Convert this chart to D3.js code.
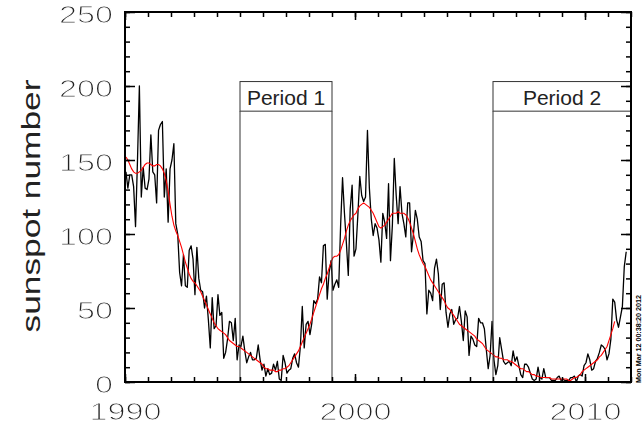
<!DOCTYPE html>
<html>
<head>
<meta charset="utf-8">
<script src="https://cdn.jsdelivr.net/npm/d3@7"></script>
<style>
	body { margin: 0; background: #fff; }
	svg { display: block; }
</style>
</head>
<body>
<div id="chart"></div>
<script>
// monthly sunspot numbers, one row per year, starting Jan 1990 (ends Oct 2011)
const startYear = 1990;
const monthly = [
	142, 131, 140, 140, 132, 105, 149, 200, 125, 145, 131, 130,
	137, 167, 142, 140, 121, 170, 174, 176, 125, 144, 108, 144,
	150, 161, 107, 100, 74, 65, 86, 65, 64, 89, 92, 83,
	59, 91, 70, 62, 61, 50, 58, 42, 23, 57, 36, 38,
	59, 45, 47, 16, 20, 29, 41, 40, 28, 43, 15, 25,
	24, 31, 21, 13, 17, 20, 15, 15, 16, 25, 15, 8,
	12, 4, 9, 5, 6, 12, 8, 14, 2, 1, 18, 13,
	6, 8, 9, 16, 19, 13, 10, 24, 51, 23, 39, 41,
	32, 40, 55, 53, 56, 71, 67, 92, 93, 56, 74, 82,
	62, 66, 69, 64, 106, 138, 114, 94, 72, 117, 133, 85,
	90, 113, 139, 126, 122, 125, 170, 131, 110, 99, 107, 104,
	96, 81, 114, 108, 97, 134, 82, 106, 151, 126, 107, 132,
	114, 107, 98, 121, 121, 88, 100, 116, 110, 98, 95, 82,
	80, 46, 62, 60, 55, 77, 83, 73, 49, 66, 67, 47,
	37, 46, 49, 39, 42, 43, 51, 41, 28, 48, 44, 18,
	31, 29, 25, 24, 43, 40, 40, 36, 22, 9, 18, 41,
	15, 5, 11, 30, 22, 14, 12, 13, 14, 11, 21, 14,
	17, 11, 5, 3, 12, 12, 10, 6, 2, 1, 2, 10,
	3, 2, 9, 3, 3, 3, 1, 1, 1, 3, 4, 1,
	2, 1, 1, 1, 3, 3, 4, 0, 4, 5, 4, 11,
	13, 19, 15, 8, 9, 14, 16, 20, 25, 24, 22, 15,
	19, 29, 56, 54, 42, 37, 44, 51, 78, 88
];

// smoothed sunspot numbers (red), Jan 1990 to Apr 2011
const smoothed = [
	152, 150, 147, 144, 142, 141, 141, 142, 143, 145, 147, 148,
	148, 147, 146, 146, 147, 147, 146, 144, 141, 136, 129, 120,
	112, 106, 102, 99, 95, 91, 86, 81, 77, 73, 70, 68,
	67, 65, 63, 61, 58, 55, 52, 49, 46, 43, 40, 38,
	36, 35, 34, 33, 32, 30, 28, 27, 26, 25, 24, 24,
	23, 22, 21, 20, 19, 18, 17, 16, 15, 14, 13, 12,
	10, 9, 9, 8, 8, 8, 7, 7, 8, 8, 9, 9,
	10, 11, 13, 15, 17, 19, 21, 24, 27, 30, 33, 36,
	39, 43, 47, 51, 55, 59, 63, 66, 70, 73, 77, 81,
	84, 85, 85, 86, 89, 93, 97, 102, 106, 109, 111, 113,
	114, 117, 119, 120, 121, 120, 119, 118, 116, 114, 111, 108,
	105, 104, 105, 106, 108, 110, 112, 114, 114, 114, 115, 114,
	114, 114, 113, 111, 108, 104, 100, 95, 90, 86, 83, 80,
	78, 75, 72, 69, 67, 65, 63, 61, 59, 57, 55, 52,
	50, 49, 47, 45, 43, 41, 39, 38, 37, 36, 35, 34,
	33, 32, 31, 29, 28, 27, 26, 24, 22, 21, 20, 19,
	18, 17, 17, 16, 16, 15, 15, 15, 14, 14, 13, 12,
	11, 10, 9, 9, 8, 7, 7, 6, 5, 5, 4, 4,
	3, 3, 3, 3, 3, 3, 2, 2, 2, 2, 2, 2,
	2, 2, 2, 1, 1, 2, 3, 3, 4, 5, 7, 8,
	9, 10, 11, 12, 13, 14, 15, 17, 18, 20, 22, 24,
	28, 32, 36, 41
];

const periods = [
	{ label: "Period 1", start: 1995, end: 1999 },
	{ label: "Period 2", start: 2006, end: 2012 }
];

const xDomain = [1990, 2012];
const yDomain = [0, 250];
const xTicks = [1990, 2000, 2010];
const xMinorTicks = d3.range(1990, 2013, 1);
const yTicks = [0, 50, 100, 150, 200, 250];
const yMinorTicks = d3.range(0, 251, 10);
const yTitle = "sunspot number";
const stamp = "Mon Mar 12 00:38:20 2012";

// layout
const width = 644;
const height = 429;
const margin = { top: 12, right: 13, bottom: 47, left: 125 };
const boxTop = 203;     // period label boxes, in sunspot units
const boxBottom = 183;
const digitWidth = 18;  // tick labels are drawn wide, like the original
const textFont = "'Liberation Sans', Arial, Helvetica, sans-serif";

const svg = d3.select("#chart")
	.append("svg")
	.attr("width", width)
	.attr("height", height);

const defs = svg.append("defs");

defs.append("clipPath")
	.attr("id", "plot-clip")
	.append("rect")
	.attr("x", margin.left)
	.attr("y", margin.top)
	.attr("width", width - margin.left - margin.right)
	.attr("height", height - margin.top - margin.bottom);

// no-op filter: renders the labels offscreen so they get plain grey antialiasing
defs.append("filter")
	.attr("id", "flat")
	.append("feOffset")
	.attr("dx", 0)
	.attr("dy", 0);

const x = d3.scaleLinear()
	.domain(xDomain)
	.range([margin.left, width - margin.right]);

const y = d3.scaleLinear()
	.domain(yDomain)
	.range([height - margin.bottom, margin.top]);

const monthTime = (i) => startYear + (i + 0.5) / 12;

const line = d3.line()
	.x((d, i) => x(monthTime(i)))
	.y((d) => y(d));

const plot = svg.append("g").attr("clip-path", "url(#plot-clip)");

plot.append("path")
	.datum(monthly)
	.attr("fill", "none")
	.attr("stroke", "#000")
	.attr("stroke-width", 1.3)
	.attr("stroke-linejoin", "round")
	.attr("d", line);

plot.append("path")
	.datum(smoothed)
	.attr("fill", "none")
	.attr("stroke", "#f00")
	.attr("stroke-width", 1.1)
	.attr("d", line);

// period boxes
const period = svg.append("g")
	.selectAll("g")
	.data(periods)
	.enter()
	.append("g");

period.append("rect")
	.attr("x", (d) => x(d.start))
	.attr("y", y(boxTop))
	.attr("width", (d) => x(d.end) - x(d.start))
	.attr("height", y(boxBottom) - y(boxTop))
	.attr("fill", "#fff")
	.attr("stroke", "#333")
	.attr("stroke-width", 1);

period.selectAll("line")
	.data((d) => [d.start, d.end])
	.enter()
	.append("line")
	.attr("x1", (d) => x(d))
	.attr("x2", (d) => x(d))
	.attr("y1", y(boxBottom))
	.attr("y2", y(0))
	.attr("stroke", "#333")
	.attr("stroke-width", 1);

period.append("text")
	.attr("x", (d) => (x(d.start) + x(d.end)) / 2)
	.attr("y", y(boxBottom) - 6)
	.attr("text-anchor", "middle")
	.attr("font-family", textFont)
	.attr("font-size", 21)
	.attr("fill", "#222")
	.text((d) => d.label);

// axes, ticks on all four sides pointing inward
const styleTicks = (g) => {
	g.select(".domain").remove();
	g.selectAll(".tick line").attr("stroke", "#000").attr("stroke-width", 1.5);
};

// white stroke over the fill thins the glyphs, like the hairline original
const styleLabels = (g) => {
	g.selectAll(".tick text")
		.attr("font-family", textFont)
		.attr("font-size", 23)
		.attr("fill", "#222")
		.attr("stroke", "#fff")
		.attr("stroke-width", 1)
		.attr("filter", "url(#flat)")
		.attr("textLength", (d) => String(d).length * digitWidth)
		.attr("lengthAdjust", "spacingAndGlyphs");
};

const plotBottom = y(0);
const plotTop = y(250);
const plotLeft = x(1990);
const plotRight = x(2012);

svg.append("g")
	.attr("transform", `translate(0,${plotBottom})`)
	.call(d3.axisBottom(x).tickValues(xMinorTicks).tickSize(-5).tickFormat(""))
	.call(styleTicks);

svg.append("g")
	.attr("transform", `translate(0,${plotBottom})`)
	.call(d3.axisBottom(x).tickValues(xTicks).tickSize(-8).tickFormat(d3.format("d")))
	.call(styleTicks)
	.call(styleLabels)
	.call((g) => g.selectAll(".tick text").attr("y", 22).attr("dy", "0.71em"));

svg.append("g")
	.attr("transform", `translate(0,${plotTop})`)
	.call(d3.axisTop(x).tickValues(xMinorTicks).tickSize(-5).tickFormat(""))
	.call(styleTicks);

svg.append("g")
	.attr("transform", `translate(0,${plotTop})`)
	.call(d3.axisTop(x).tickValues(xTicks).tickSize(-8).tickFormat(""))
	.call(styleTicks);

svg.append("g")
	.attr("transform", `translate(${plotLeft},0)`)
	.call(d3.axisLeft(y).tickValues(yMinorTicks).tickSize(-5).tickFormat(""))
	.call(styleTicks);

svg.append("g")
	.attr("transform", `translate(${plotLeft},0)`)
	.call(d3.axisLeft(y).tickValues(yTicks).tickSize(-10).tickPadding(12))
	.call(styleTicks)
	.call(styleLabels)
	.call((g) => g.selectAll(".tick text").attr("dy", "0.46em"));

svg.append("g")
	.attr("transform", `translate(${plotRight},0)`)
	.call(d3.axisRight(y).tickValues(yMinorTicks).tickSize(-5).tickFormat(""))
	.call(styleTicks);

svg.append("g")
	.attr("transform", `translate(${plotRight},0)`)
	.call(d3.axisRight(y).tickValues(yTicks).tickSize(-10).tickFormat(""))
	.call(styleTicks);

// frame
svg.append("rect")
	.attr("x", plotLeft)
	.attr("y", plotTop)
	.attr("width", plotRight - plotLeft)
	.attr("height", plotBottom - plotTop)
	.attr("fill", "none")
	.attr("stroke", "#000")
	.attr("stroke-width", 2);

// y title
svg.append("text")
	.attr("transform", `translate(40,${(plotTop + plotBottom) / 2 + 9}) rotate(-90)`)
	.attr("text-anchor", "middle")
	.attr("font-family", textFont)
	.attr("font-size", 25)
	.attr("fill", "#222")
	.attr("textLength", 253)
	.attr("lengthAdjust", "spacingAndGlyphs")
	.text(yTitle);

// date stamp along the right edge
svg.append("text")
	.attr("transform", `translate(641,${plotBottom + 1}) rotate(-90)`)
	.attr("text-anchor", "start")
	.attr("font-family", textFont)
	.attr("font-weight", "bold")
	.attr("font-size", 8)
	.attr("fill", "#000")
	.attr("textLength", 88)
	.attr("lengthAdjust", "spacingAndGlyphs")
	.text(stamp);
</script>
</body>
</html>
